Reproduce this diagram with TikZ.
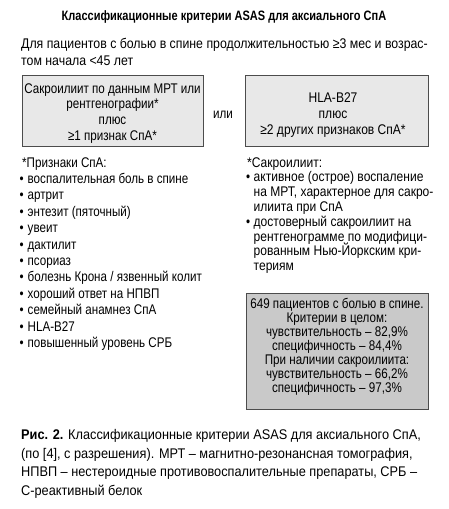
\documentclass[tikz,border=0pt]{standalone}
\usepackage{fontspec}
\setmainfont[FakeStretch=0.83]{Liberation Sans}
\newfontfamily\widefont[FakeStretch=0.88]{Liberation Sans}
\newfontfamily\listfont[FakeStretch=0.86]{Liberation Sans}
\newfontfamily\capfont[FakeStretch=0.91]{Liberation Sans}
\newfontfamily\titlefont[FakeStretch=0.81]{Liberation Sans}
\begin{document}
\begin{tikzpicture}[x=1pt,y=-1pt,
  txt/.style={inner sep=0pt,anchor=base west,font=\fontsize{14}{16}\selectfont},
  ctxt/.style={inner sep=0pt,anchor=base,font=\fontsize{14}{16}\selectfont},
  rtxt/.style={inner sep=0pt,anchor=base west,font=\listfont\fontsize{14}{16}\selectfont},
  captxt/.style={inner sep=0pt,anchor=base west,font=\capfont\fontsize{14}{16}\selectfont},
  lightbox/.style={draw=black!70,fill=black!9,line width=0.8pt},
  darkbox/.style={draw=black!70,fill=black!21,line width=0.8pt},
  bul/.style={inner sep=0pt,anchor=base west,font=\fontsize{14}{16}\selectfont}]
\useasboundingbox (0,0) rectangle (448,509);
\fill[white] (0,0) rectangle (448,509);
% title
\node[inner sep=0pt,anchor=base,font=\titlefont\fontsize{13.6}{15}\selectfont\bfseries] (title) at (224,20.5) {Классификационные критерии ASAS для аксиального СпА};
\node[txt,font=\widefont\fontsize{14}{16}\selectfont] (intro1) at (21,48.5) {Для пациентов с болью в спине продолжительностью ≥3 мес и возрас-};
\node[txt,font=\widefont\fontsize{14}{16}\selectfont] (intro2) at (21,65) {том начала <45 лет};
% boxes
\draw[lightbox] (22,75) rectangle (203,146);
\draw[lightbox] (245,75) rectangle (428,146);
\node[ctxt] (l1) at (112.5,93) {Сакроилиит по данным МРТ или};
\node[ctxt] (l2) at (112.5,108.5) {рентгенографии*};
\node[ctxt] (l3) at (112.5,124) {плюс};
\node[ctxt] (l4) at (112.5,140) {≥1 признак СпА*};
\node[ctxt] (ili) at (223,118) {или};
\node[ctxt,font=\listfont\fontsize{14}{16}\selectfont] (r1) at (333,102) {HLA-B27};
\node[ctxt,font=\listfont\fontsize{14}{16}\selectfont] (r2) at (333,118) {плюс};
\node[ctxt,font=\listfont\fontsize{14}{16}\selectfont] (r3) at (333,134) {≥2 других признаков СпА*};
% left list
\node[txt] (lh) at (22,167) {*Признаки СпА:};
\foreach \t [count=\i] in {воспалительная боль в спине,артрит,энтезит (пяточный),увеит,дактилит,псориаз,болезнь Крона / язвенный колит,хороший ответ на НПВП,семейный анамнез СпА,HLA-B27,повышенный уровень СРБ}{
  \node[bul] (lb\i) at (19.5,{167+16.4*\i}) {•};
  \node[txt] (li\i) at (27.5,{167+16.4*\i}) {\t};
}
% right list
\node[rtxt] (rh) at (247,167) {*Сакроилиит:};
\foreach \t [count=\i] in {активное (острое) воспаление,на МРТ{,} характерное для сакро-,илиита при СпА,достоверный сакроилиит на,рентгенограмме по модифици-,рованным Нью-Йоркским кри-,териям}{
  \node[rtxt] (ri\i) at (253.5,{167+14.8*\i}) {\t};
}
\node[bul] (rb1) at (246,181.8) {•};
\node[bul] (rb2) at (246,226.2) {•};
% bottom box
\draw[darkbox] (246,293) rectangle (428,409);
\foreach \t [count=\i] in {649 пациентов с болью в спине.,Критерии в целом:,чувствительность – 82{,}9\%,специфичность – 84{,}4\%,При наличии сакроилиита:,чувствительность – 66{,}2\%,специфичность – 97{,}3\%}{
  \node[ctxt] (b\i) at (337,{295+13.9*\i}) {\t};
}
% caption
\node[captxt] (c1) at (21,439) {\textbf{Рис. 2.} Классификационные критерии ASAS для аксиального СпА,};
\node[captxt] (c2) at (21,458) {(по [4], с разрешения). МРТ – магнитно-резонансная томография,};
\node[captxt] (c3) at (21,476.5) {НПВП – нестероидные противовоспалительные препараты, СРБ –};
\node[captxt] (c4) at (21,495) {С-реактивный белок};
\end{tikzpicture}
\end{document}
